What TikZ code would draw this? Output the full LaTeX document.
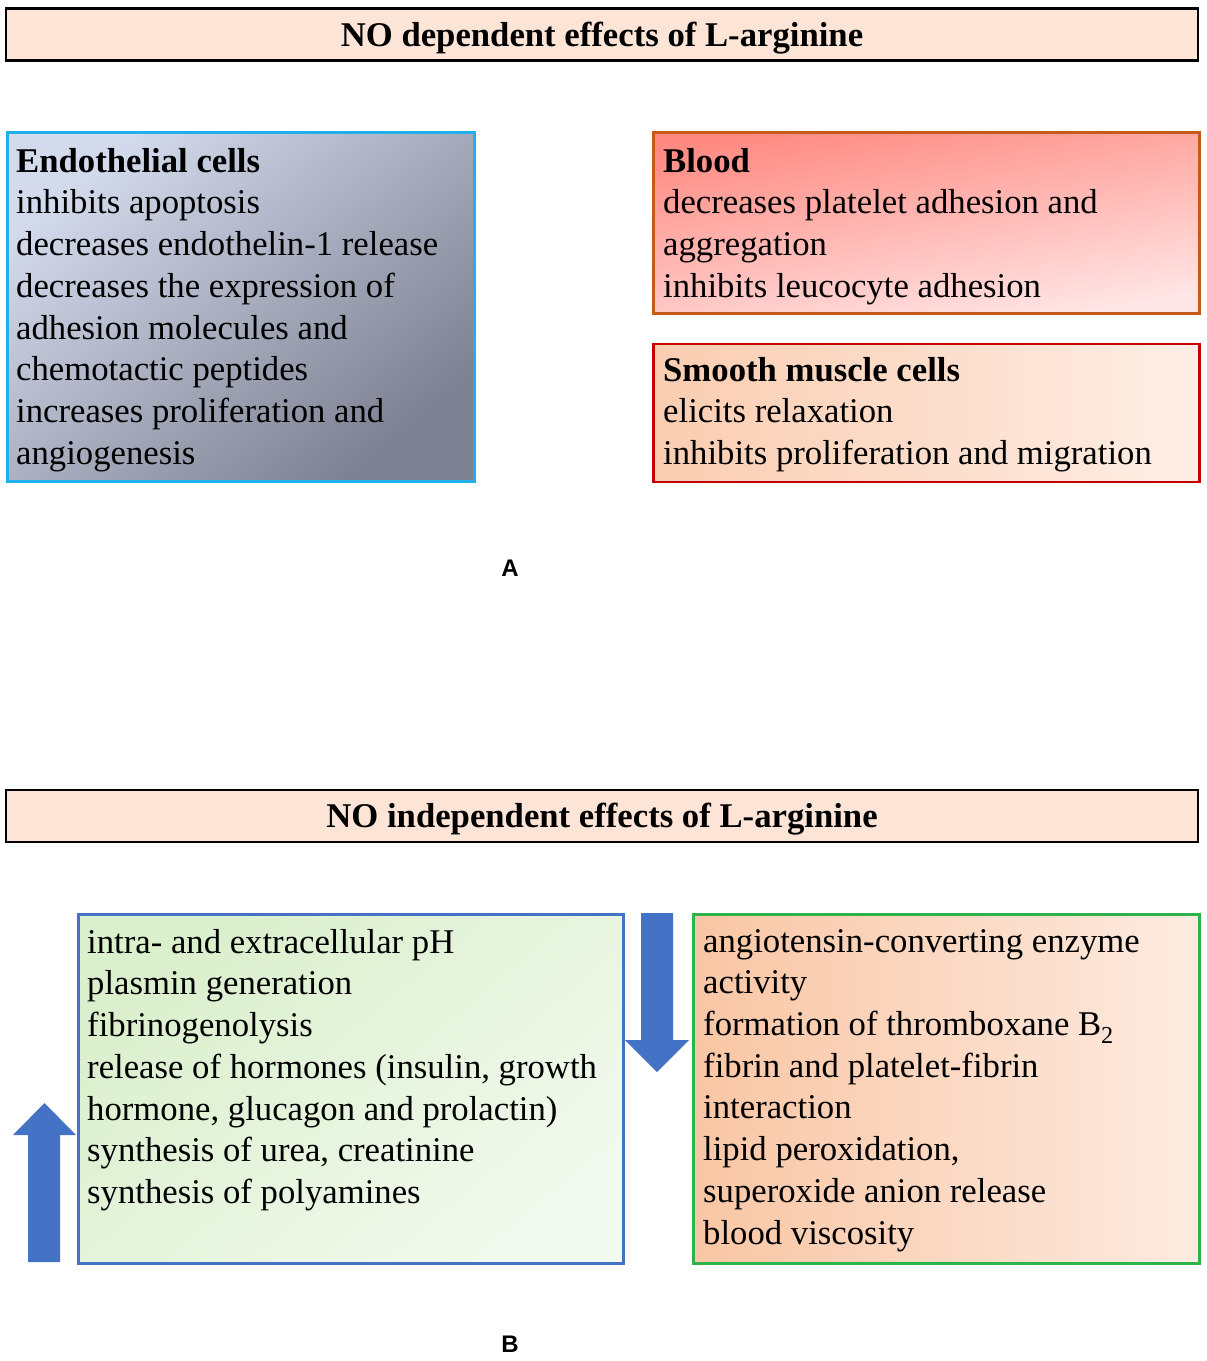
\documentclass[tikz,border=0pt]{standalone}
\usepackage{fontspec}
\setmainfont{Liberation Serif}
\newfontfamily\panelfont{Liberation Sans}
\usepackage{xcolor}
\usepackage{tikz}
\usetikzlibrary{positioning}

\definecolor{peach}{HTML}{FCE4D6}
\definecolor{endoedge}{HTML}{22B0EC}
\definecolor{endolight}{HTML}{D3DAEC}
\definecolor{endodark}{HTML}{7D8191}
\definecolor{bloodedge}{HTML}{C55A1A}
\definecolor{bloodtop}{HTML}{FF8A82}
\definecolor{bloodbot}{HTML}{FFE6E6}
\definecolor{smcedge}{HTML}{C40000}
\definecolor{smcleft}{HTML}{FACDB0}
\definecolor{smcright}{HTML}{FEEEE6}
\definecolor{upedge}{HTML}{4472C4}
\definecolor{upleft}{HTML}{DAEFCC}
\definecolor{upright}{HTML}{F2F9EE}
\definecolor{downedge}{HTML}{2DB34A}
\definecolor{downleft}{HTML}{F9C6A4}
\definecolor{downright}{HTML}{FDEBE1}
\definecolor{arrblue}{HTML}{4472C4}

\begin{document}
\begin{tikzpicture}[x=1pt, y=-1pt,
  headbox/.style={rectangle, draw=black, line width=2.5pt, fill=peach,
                  minimum width=1192pt, minimum height=52pt, inner sep=0pt,
                  text height=26pt, text depth=3pt,
                  font=\fontsize{34.7}{41.7}\selectfont\bfseries},
  cellbox/.style={rectangle, line width=2.5pt, inner sep=0pt, anchor=north west},
  txt/.style={anchor=north west, inner sep=0pt, align=left,
              font=\fontsize{34.7}{41.7}\selectfont},
  panel/.style={font=\panelfont\bfseries\fontsize{24}{28}\selectfont},
  blockarr/.style={fill=arrblue, draw=none}]
  \useasboundingbox (0,0) rectangle (1207,1361);

  \node[headbox] (dephead) at (602,34.5) {NO dependent effects of L-arginine};
  \node[cellbox, draw=endoedge, top color=endolight, bottom color=endodark,
        shading angle=40, minimum width=467pt, minimum height=349pt] (endo) at (6,131) {};
  \node[cellbox, draw=bloodedge, top color=bloodtop, bottom color=bloodbot,
        shading angle=10, minimum width=546pt, minimum height=181pt] (blood) at (652,131) {};
  \node[cellbox, draw=smcedge, left color=smcleft, right color=smcright,
        minimum width=546pt, minimum height=138pt, below=28pt of blood] (smc) {};
  \node[txt] (endotxt) at (16,148) {\textbf{Endothelial cells}\\inhibits apoptosis\\
    decreases endothelin-1 release\\decreases the expression of\\
    adhesion molecules and\\chemotactic peptides\\
    increases proliferation and\\angiogenesis};
  \node[txt] (bloodtxt) at (663,148) {\textbf{Blood}\\decreases platelet adhesion and\\
    aggregation\\inhibits leucocyte adhesion};
  \node[txt] (smctxt) at (663,357) {\textbf{Smooth muscle cells}\\elicits relaxation\\
    inhibits proliferation and migration};
  \node[panel] (pa) at (510,568) {A};

  \node[headbox] (indhead) at (602,816) {NO independent effects of L-arginine};
  \node[cellbox, draw=upedge, top color=upleft, bottom color=upright,
        shading angle=40, minimum width=545pt, minimum height=349pt] (upbox) at (77,913) {};
  \node[cellbox, draw=downedge, left color=downleft, right color=downright,
        minimum width=506pt, minimum height=349pt] (downbox) at (692,913) {};
  \node[txt] (uptxt) at (87,929) {intra- and extracellular pH\\plasmin generation\\
    fibrinogenolysis\\release of hormones (insulin, growth\\
    hormone, glucagon and prolactin)\\synthesis of urea, creatinine\\
    synthesis of polyamines};
  \node[txt] (downtxt) at (703,929) {angiotensin-converting enzyme\\activity\\
    formation of thromboxane B\textsubscript{2}\\fibrin and platelet-fibrin\\
    interaction\\lipid peroxidation,\\superoxide anion release\\blood viscosity};
  \node[panel] (pb) at (510,1344) {B};

  \path[blockarr] (641,913) -- (673,913) -- (673,1040) -- (689,1040) -- (657,1072)
    -- (625,1040) -- (641,1040) -- cycle;
  \path[blockarr] (28,1262) -- (28,1135) -- (13,1135) -- (44.5,1103) -- (76,1135)
    -- (60,1135) -- (60,1262) -- cycle;
\end{tikzpicture}
\end{document}
